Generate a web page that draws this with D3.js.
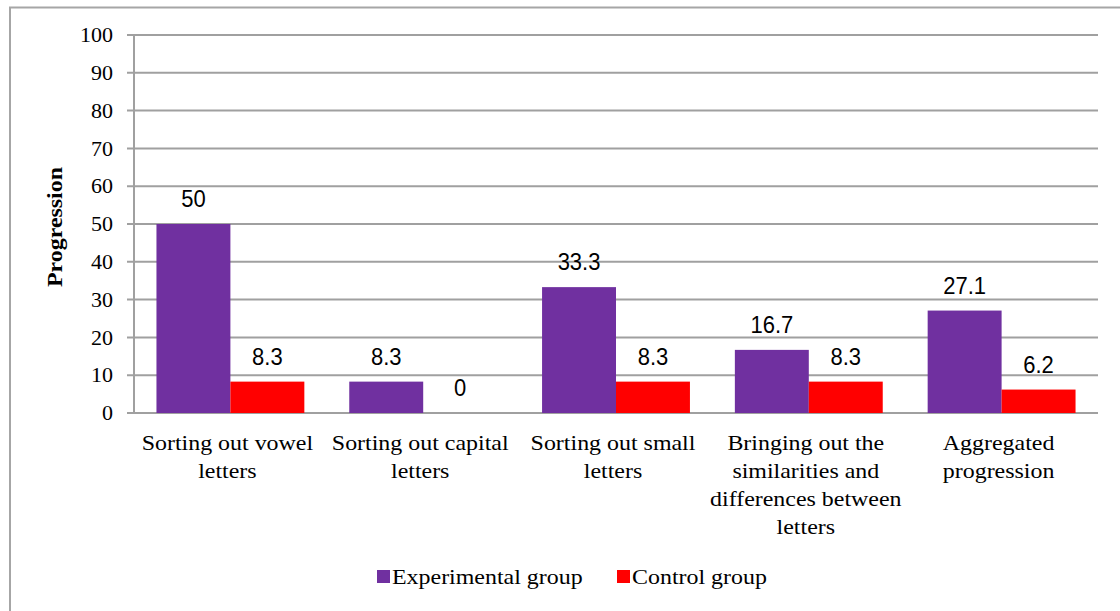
<!DOCTYPE html>
<html><head><meta charset="utf-8">
<script src="https://cdn.jsdelivr.net/npm/d3@7"></script>
<style>body{margin:0;background:#fff}svg{display:block}
.serif{font-family:"Liberation Serif","DejaVu Serif",serif}
.sans{font-family:"Liberation Sans","DejaVu Sans",sans-serif}
</style>
</head><body>
<svg id="c" width="1120" height="611"></svg>
<script>
const categories = [
  ["Sorting out vowel", "letters"],
  ["Sorting out capital", "letters"],
  ["Sorting out small", "letters"],
  ["Bringing out the", "similarities and", "differences between", "letters"],
  ["Aggregated", "progression"]
];
const seriesNames = ["Experimental group", "Control group"];
const experimental = [50, 8.3, 33.3, 16.7, 27.1];
const control = [8.3, 0, 8.3, 8.3, 6.2];
const yTicks = [0,10,20,30,40,50,60,70,80,90,100];
const colors = ["#7030A0", "#FF0000"];

(function(){
const svg = d3.select("#c");
const SX = 1.14;

// chart border
svg.append("rect").attr("x",10).attr("y",7.5).attr("width",1200).attr("height",700)
  .attr("fill","none").attr("stroke","#a6a6a6").attr("stroke-width",2);

const pl = 134, pr = 1098, pt = 35, pb = 413;
const y = d3.scaleLinear().domain([0,100]).range([pb, pt]);
const x0 = d3.scaleBand().domain(d3.range(categories.length)).range([pl, pr]).paddingInner(0.233).paddingOuter(0.1165);
const x1 = d3.scaleBand().domain([0,1]).range([0, x0.bandwidth()]);

// gridlines
svg.append("g").selectAll("line").data(yTicks).join("line")
  .attr("x1", pl-7).attr("x2", pr).attr("y1", d=>y(d)).attr("y2", d=>y(d))
  .attr("stroke","#a0a0a0").attr("stroke-width",2);
svg.append("line").attr("x1",pl).attr("x2",pl).attr("y1",pt).attr("y2",pb)
  .attr("stroke","#a0a0a0").attr("stroke-width",2);

// y axis labels
const yAxis = d3.axisLeft(y).tickValues(yTicks).tickSize(0).tickPadding(0).tickFormat(()=>"");
const ga = svg.append("g").attr("transform",`translate(${pl},0)`).call(yAxis);
ga.select(".domain").remove();
ga.selectAll(".tick").append("text").attr("class","serif")
  .attr("transform","translate(-21,0) scale(1.1,1)")
  .attr("text-anchor","end").attr("dy","0.33em").attr("font-size",20).attr("fill","#000")
  .text(d=>d);

// axis title
svg.append("text").attr("class","serif").attr("transform",`translate(62,227) rotate(-90) scale(${SX},1)`)
  .attr("text-anchor","middle").attr("font-weight","bold")
  .attr("font-size",21).text("Progression");

// bars
const data = categories.map((c,i)=>[experimental[i], control[i]]);
const g = svg.append("g");
data.forEach((vals,i)=>{
  vals.forEach((v,s)=>{
    const bx = x0(i) + x1(s);
    if (v > 0) g.append("rect").attr("x", bx).attr("y", y(v)).attr("width", x1.bandwidth()).attr("height", pb - y(v)).attr("fill", colors[s]);
    g.append("text").attr("class","sans")
      .attr("transform",`translate(${bx + x1.bandwidth()/2},${y(v) - 17}) scale(1,1.05)`)
      .attr("text-anchor","middle").attr("font-size",22).attr("fill","#000")
      .text(v);
  });
});

// category labels
categories.forEach((lines,i)=>{
  const t = svg.append("text").attr("class","serif")
    .attr("transform",`translate(${x0(i)+x0.bandwidth()/2 - 3},0) scale(${SX},1)`)
    .attr("text-anchor","middle").attr("font-size",21).attr("fill","#000");
  lines.forEach((ln,k)=>{
    t.append("tspan").attr("x", 0).attr("y", 450 + k*28).text(ln);
  });
});

// legend
const legX = [377, 617];
seriesNames.forEach((n,s)=>{
  svg.append("rect").attr("x", legX[s]).attr("y", 570).attr("width",13).attr("height",13).attr("fill", colors[s]);
  svg.append("text").attr("class","serif").attr("transform",`translate(${legX[s]+15},584) scale(${SX},1)`)
    .attr("font-size",21).text(n);
});
})();
</script>
</body></html>
